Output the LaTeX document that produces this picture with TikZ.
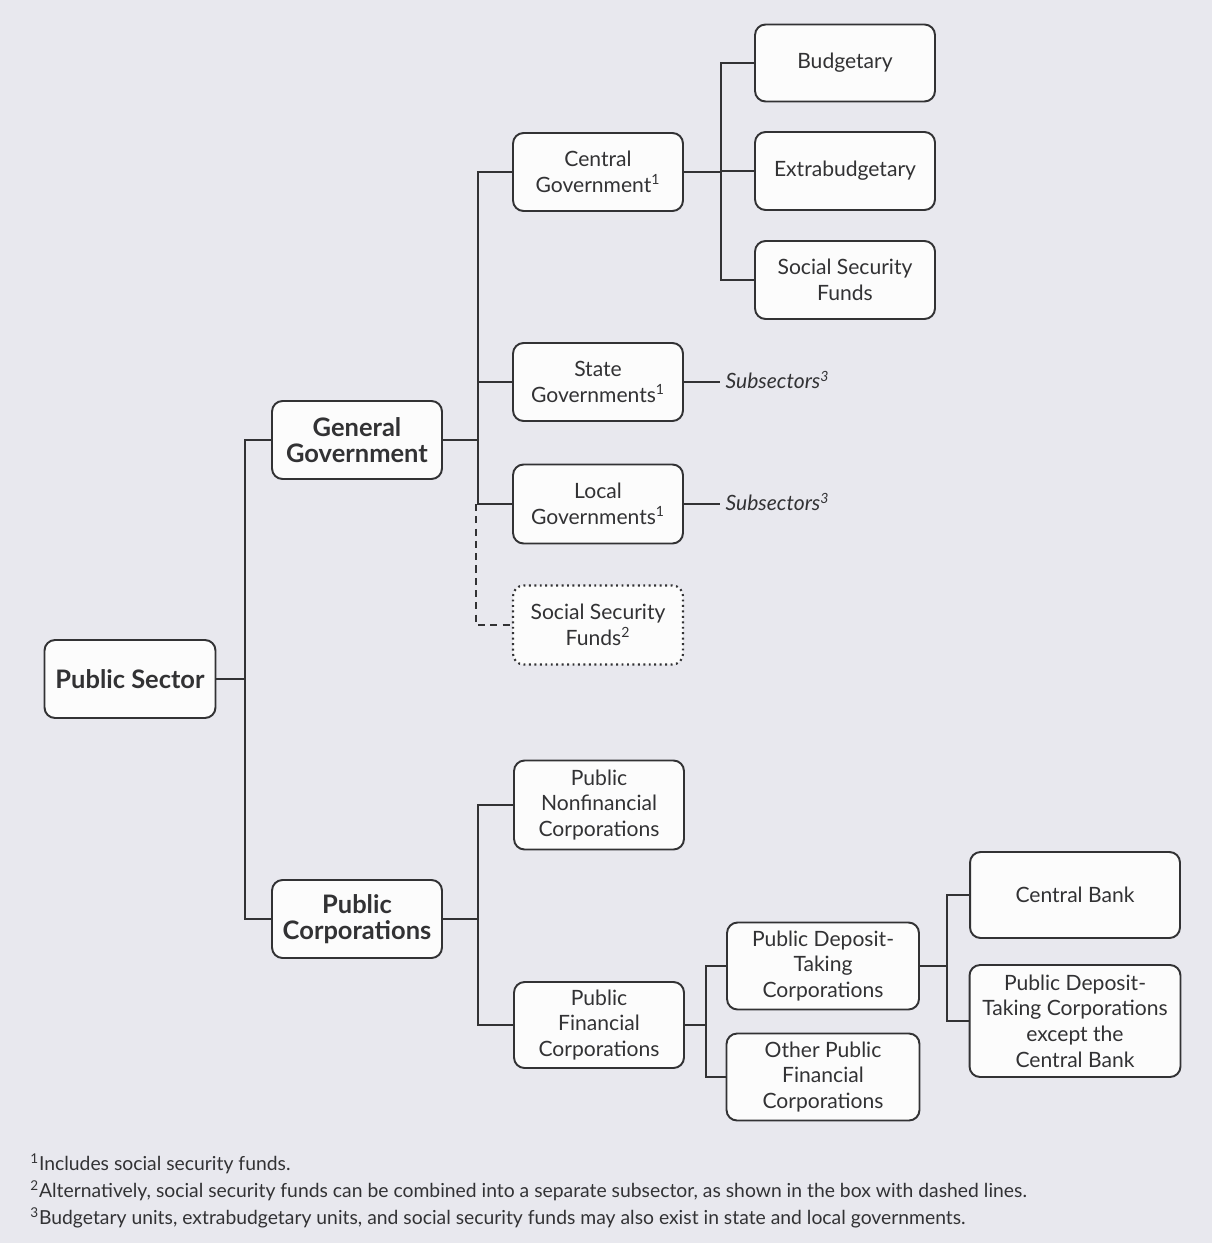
\documentclass[tikz,border=0pt]{standalone}
\usepackage{fontspec}
\setmainfont{Lato}
\usepackage{tikz}

\definecolor{bgcol}{RGB}{232,232,238}
\definecolor{inkcol}{RGB}{50,50,52}
\definecolor{boxfill}{RGB}{252,252,252}

\tikzset{
  box/.style={draw=inkcol, fill=boxfill, line width=1.1pt, rounded corners=6pt,
    align=center, text=inkcol, inner sep=2pt,
    font=\fontsize{12}{14.6}\selectfont},
  boldbox/.style={box, font=\fontsize{14.5}{14.6}\selectfont\bfseries},
  dotbox/.style={box, dotted, line width=1.2pt},
  link/.style={draw=inkcol, line width=1.1pt},
  dashlink/.style={link, dashed, dash pattern=on 4pt off 3pt},
  subnote/.style={anchor=west, text=inkcol, inner sep=3pt,
    font=\fontsize{12}{14}\selectfont\itshape},
  footnote/.style={anchor=west, text=inkcol, inner sep=0pt,
    font=\fontsize{11}{12}\selectfont}
}

\begin{document}
\begin{tikzpicture}[x=0.02cm, y=-0.02cm]
    \fill[bgcol] (0,0) rectangle (1212,1243);

    % root and second level
    \node[boldbox, minimum width=3.42cm, minimum height=1.56cm] (ps) at (130,679) {Public Sector};
    \node[boldbox, minimum width=3.40cm, minimum height=1.56cm] (gg) at (357,440) {General\\Government};
    \node[boldbox, minimum width=3.40cm, minimum height=1.56cm] (pc) at (357,919) {Public\\Corporations};

    % general government
    \node[box, minimum width=3.40cm, minimum height=1.56cm] (cg) at (598,172) {Central\\Government\textsuperscript{1}};
    \node[box, minimum width=3.40cm, minimum height=1.56cm] (sg) at (598,382) {State\\Governments\textsuperscript{1}};
    \node[box, minimum width=3.40cm, minimum height=1.58cm] (lg) at (598,504) {Local\\Governments\textsuperscript{1}};
    \node[dotbox, minimum width=3.40cm, minimum height=1.58cm] (ssf2) at (598,625) {Social Security\\Funds\textsuperscript{2}};

    \node[box, minimum width=3.60cm, minimum height=1.54cm] (bud) at (845,63) {Budgetary};
    \node[box, minimum width=3.60cm, minimum height=1.56cm] (ext) at (845,171) {Extrabudgetary};
    \node[box, minimum width=3.60cm, minimum height=1.56cm] (ssf1) at (845,280) {Social Security\\Funds};

    \node[subnote] (sub1) at (720,380) {Subsectors\textsuperscript{3}};
    \node[subnote] (sub2) at (720,502) {Subsectors\textsuperscript{3}};

    % public corporations
    \node[box, minimum width=3.40cm, minimum height=1.78cm] (pnc) at (599,805) {Public\\Nonfinancial\\Corporations};
    \node[box, minimum width=3.40cm, minimum height=1.72cm] (pfc) at (599,1025) {Public\\Financial\\Corporations};
    \node[box, minimum width=3.84cm, minimum height=1.74cm] (pdtc) at (823,966) {Public Deposit-\\Taking\\Corporations};
    \node[box, minimum width=3.86cm, minimum height=1.74cm] (opfc) at (823,1077) {Other Public\\Financial\\Corporations};
    \node[box, minimum width=4.20cm, minimum height=1.72cm] (cb) at (1075,895) {Central Bank};
    \node[box, minimum width=4.22cm, minimum height=2.24cm] (pdtx) at (1075,1021) {Public Deposit-\\Taking Corporations\\except the\\Central Bank};

    % connectors
    \draw[link] (ps.east) -- ++(29,0) |- (gg.west);
    \draw[link] (ps.east) -- ++(29,0) |- (pc.west);

    \draw[link] (gg.east) -- ++(35,0) |- (cg.west);
    \draw[link] (gg.east) -- ++(35,0) |- (sg.west);
    \draw[link] (gg.east) -- ++(35,0) |- (lg.west);
    \draw[dashlink] (lg.west) ++(-36,0) |- (ssf2.west);

    \draw[link] (cg.east) -- ++(37,0) |- (bud.west);
    \draw[link] (cg.east) -- ++(37,0) |- (ext.west);
    \draw[link] (cg.east) -- ++(37,0) |- (ssf1.west);

    \draw[link] (sg.east) -- (sub1.west |- sg.east);
    \draw[link] (lg.east) -- (sub2.west |- lg.east);

    \draw[link] (pc.east) -- ++(35,0) |- (pnc.west);
    \draw[link] (pc.east) -- ++(35,0) |- (pfc.west);

    \draw[link] (pfc.east) -- ++(21,0) |- (pdtc.west);
    \draw[link] (pfc.east) -- ++(21,0) |- (opfc.west);

    \draw[link] (pdtc.east) -- ++(27,0) |- (cb.west);
    \draw[link] (pdtc.east) -- ++(27,0) |- (pdtx.west);

    % footnotes
    \node[footnote] (fn1) at (30,1164) {\textsuperscript{1}Includes social security funds.};
    \node[footnote] (fn2) at (30,1191) {\textsuperscript{2}Alternatively, social security funds can be combined into a separate subsector, as shown in the box with dashed lines.};
    \node[footnote] (fn3) at (30,1218) {\textsuperscript{3}Budgetary units, extrabudgetary units, and social security funds may also exist in state and local governments.};
\end{tikzpicture}
\end{document}
